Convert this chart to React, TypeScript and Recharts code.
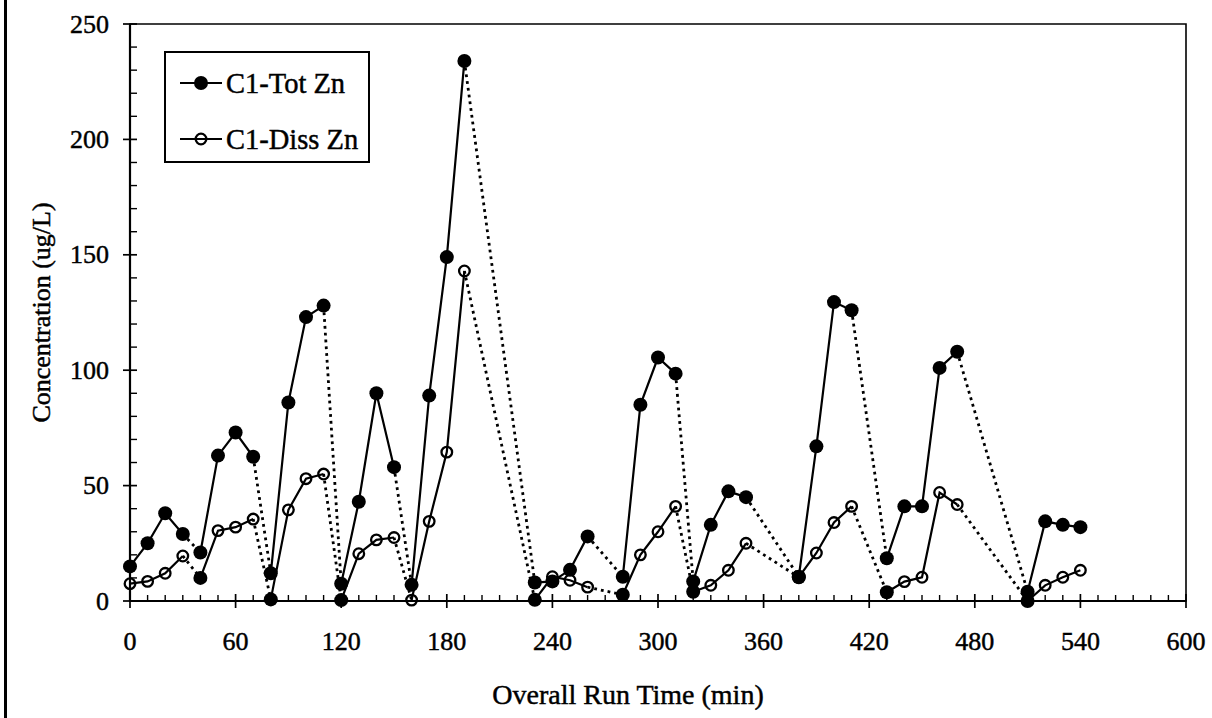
import React from 'react';
import { LineChart, Line, XAxis, YAxis, ReferenceArea, Legend } from 'recharts';

// Sample times (min) shared by both zinc series
const runTime = [
  0, 10, 20, 30,
  40, 50, 60, 70,
  80, 90, 100, 110,
  120, 130, 140, 150,
  160, 170, 180, 190,
  230, 240, 250, 260,
  280, 290, 300, 310,
  320, 330, 340, 350,
  380, 390, 400, 410,
  430, 440, 450, 460, 470,
  510, 520, 530, 540,
];

// Total zinc (ug/L)
const totZn = [
  15, 25, 38, 29,
  21, 63, 73, 62.5,
  12, 86, 123, 128,
  7.5, 43, 90, 58,
  7, 89, 149, 234,
  8, 8.5, 13.5, 28,
  10.5, 85, 105.5, 98.5,
  8.5, 33, 47.5, 45,
  10.5, 67, 129.5, 126,
  18.5, 41, 41, 101, 108,
  4, 34.5, 33, 32,
];

// Dissolved zinc (ug/L)
const dissZn = [
  7.5, 8.5, 12, 19.5,
  10, 30.5, 32, 35.5,
  0.7, 39.5, 53, 55,
  0.4, 20.5, 26.5, 27.5,
  0.4, 34.5, 64.5, 143,
  0.5, 10.5, 9, 6,
  2.7, 20, 30, 41,
  4, 6.8, 13.3, 25,
  10.3, 20.8, 34, 41,
  3.8, 8.4, 10.3, 47, 41.8,
  0, 6.8, 10.3, 13.3,
];

// First sample time of each run; runs are joined by dotted connectors
const runStarts = [0, 40, 80, 120, 160, 230, 280, 320, 380, 430, 510];
// Dissolved samples plotted with a solid marker
const dissSolidMarkerAt = [40, 80, 120, 230, 280, 320, 380, 430, 510];

const xMajorTicks = [0, 60, 120, 180, 240, 300, 360, 420, 480, 540, 600];
const yMajorTicks = [0, 50, 100, 150, 200, 250];
const seriesNames = ['C1-Tot Zn', 'C1-Diss Zn'];
const xTitleText = 'Overall Run Time (min)';
const yTitleText = 'Concentration (ug/L)';

const xAllTicks = Array.from({ length: 61 }, (_, i) => i * 10);
const yAllTicks = Array.from({ length: 26 }, (_, i) => i * 10);

const FONT = "'Liberation Serif', 'Times New Roman', Times, serif";
const INK = '#000';
// a thin outline gives the text its heavy printed look
const TEXT_STYLE = { fontFamily: FONT, fill: INK, stroke: INK, strokeWidth: 0.45 };

type Pt = { t: number; v: number };

const toPoints = (vals: number[]): Pt[] => runTime.map((t, i) => ({ t, v: vals[i] }));

const splitRuns = (pts: Pt[]): Pt[][] => {
  const runs: Pt[][] = [];
  pts.forEach((p) => {
    if (runStarts.includes(p.t) || runs.length === 0) runs.push([]);
    runs[runs.length - 1].push(p);
  });
  return runs;
};

const connectors = (runs: Pt[][]): Pt[][] =>
  runs.slice(1).map((r, i) => [runs[i][runs[i].length - 1], r[0]]);

const totPts = toPoints(totZn);
const dissPts = toPoints(dissZn);
const totRuns = splitRuns(totPts);
const dissRuns = splitRuns(dissPts);
const totLinks = connectors(totRuns);
const dissLinks = connectors(dissRuns);

// Axis bands: the plot box sits at left 130, top 24, right 1186, bottom 601
const Y_AXIS_W = 60;
const X_AXIS_H = 30;

const renderXTick = (props: any) => {
  const { x, y, payload } = props;
  const v = payload.value;
  const major = xMajorTicks.includes(v);
  return (
    <g key={`xt-${v}`}>
      {major ? (
        <line x1={x} x2={x} y1={y - 7} y2={y + 7} stroke={INK} strokeWidth={1.7} />
      ) : (
        <line x1={x} x2={x} y1={y - 6} y2={y} stroke={INK} strokeWidth={1.4} />
      )}
      {major && (
        <text x={x} y={y + 40} textAnchor="middle" dominantBaseline="central" fontSize={26} {...TEXT_STYLE}>
          {v}
        </text>
      )}
    </g>
  );
};

const renderYTick = (props: any) => {
  const { x, y, payload } = props;
  const v = payload.value;
  const major = yMajorTicks.includes(v);
  return (
    <g key={`yt-${v}`}>
      {major ? (
        <line x1={x - 7} x2={x + 7} y1={y} y2={y} stroke={INK} strokeWidth={1.7} />
      ) : (
        <line x1={x} x2={x + 7} y1={y} y2={y} stroke={INK} strokeWidth={1.4} />
      )}
      {major && (
        <text x={x - 21} y={y} textAnchor="end" dominantBaseline="central" fontSize={26} {...TEXT_STYLE}>
          {v}
        </text>
      )}
    </g>
  );
};

const totDot = (props: any) => {
  const { cx, cy, index } = props;
  return <circle key={`tot-${index}`} cx={cx} cy={cy} r={7} fill={INK} />;
};

const dissDot = (props: any) => {
  const { cx, cy, index, payload } = props;
  if (dissSolidMarkerAt.includes(payload.t)) {
    return <circle key={`diss-${index}`} cx={cx} cy={cy} r={7} fill={INK} />;
  }
  return <circle key={`diss-${index}`} cx={cx} cy={cy} r={5.3} fill="none" stroke={INK} strokeWidth={2.3} />;
};

const renderLegend = () => (
  <svg width={206} height={112} style={{ display: 'block' }}>
    <rect x={1} y={1} width={204} height={110} fill="#fff" stroke={INK} strokeWidth={2} />
    {seriesNames.map((name, i) => {
      const y = 32 + i * 56;
      return (
        <g key={name}>
          <line x1={16} x2={58} y1={y} y2={y} stroke={INK} strokeWidth={2.2} />
          {i === 0 ? (
            <circle cx={37} cy={y} r={7} fill={INK} />
          ) : (
            <circle cx={37} cy={y} r={5.3} fill="none" stroke={INK} strokeWidth={2.3} />
          )}
          <text x={62} y={y} dominantBaseline="central" fontSize={28.5} {...TEXT_STYLE}>
            {name}
          </text>
        </g>
      );
    })}
  </svg>
);

const yTitle = (props: any) => {
  const vb = props.viewBox;
  const cx = vb.x + vb.width - 89;
  const cy = vb.y + vb.height / 2;
  return (
    <text x={cx} y={cy} transform={`rotate(-90 ${cx} ${cy})`} textAnchor="middle" dominantBaseline="central" fontSize={26} {...TEXT_STYLE}>
      {yTitleText}
    </text>
  );
};

const xTitle = (props: any) => {
  const vb = props.viewBox;
  const cx = vb.x + vb.width / 2 - 30;
  const cy = vb.y + 93;
  return (
    <text x={cx} y={cy} textAnchor="middle" dominantBaseline="central" fontSize={28} {...TEXT_STYLE}>
      {xTitleText}
    </text>
  );
};

export default function App() {
  return (
    <div style={{ position: 'absolute', left: 0, top: 0, width: 1212, height: 718, background: '#fff', overflow: 'hidden' }}>
      <div style={{ position: 'absolute', left: 4, top: 0, width: 3, height: 718, background: INK }} />
      <LineChart
        width={1212}
        height={718}
        margin={{ top: 24, right: 26, bottom: 117 - X_AXIS_H, left: 130 - Y_AXIS_W }}
      >
        <XAxis
          type="number"
          dataKey="t"
          domain={[0, 600]}
          ticks={xAllTicks}
          interval={0}
          height={X_AXIS_H}
          tickSize={0}
          tickMargin={0}
          tickLine={false}
          tick={renderXTick}
          axisLine={{ stroke: INK, strokeWidth: 2.2 }}
          label={{ content: xTitle }}
        />
        <YAxis
          type="number"
          domain={[0, 250]}
          ticks={yAllTicks}
          interval={0}
          width={Y_AXIS_W}
          tickSize={0}
          tickMargin={0}
          tickLine={false}
          tick={renderYTick}
          axisLine={{ stroke: INK, strokeWidth: 2.2 }}
          label={{ content: yTitle }}
        />
        <ReferenceArea x1={0} x2={600} y1={0} y2={250} fill="none" stroke={INK} strokeWidth={1.6} />

        {totRuns.map((run, i) => (
          <Line key={`tot-run-${i}`} data={run} dataKey="v" stroke={INK} strokeWidth={2.2} dot={false} activeDot={false} isAnimationActive={false} legendType="none" />
        ))}
        {dissRuns.map((run, i) => (
          <Line key={`diss-run-${i}`} data={run} dataKey="v" stroke={INK} strokeWidth={2.2} dot={false} activeDot={false} isAnimationActive={false} legendType="none" />
        ))}
        {totLinks.map((seg, i) => (
          <Line key={`tot-link-${i}`} data={seg} dataKey="v" stroke={INK} strokeWidth={2.8} strokeDasharray="2.8 4" dot={false} activeDot={false} isAnimationActive={false} legendType="none" />
        ))}
        {dissLinks.map((seg, i) => (
          <Line key={`diss-link-${i}`} data={seg} dataKey="v" stroke={INK} strokeWidth={2.8} strokeDasharray="2.8 4" dot={false} activeDot={false} isAnimationActive={false} legendType="none" />
        ))}

        <Line name={seriesNames[1]} data={dissPts} dataKey="v" stroke="none" dot={dissDot} activeDot={false} isAnimationActive={false} />
        <Line name={seriesNames[0]} data={totPts} dataKey="v" stroke="none" dot={totDot} activeDot={false} isAnimationActive={false} />

        <Legend
          content={renderLegend}
          layout="horizontal"
          verticalAlign="middle"
          align="center"
          wrapperStyle={{ position: 'absolute', left: 164, top: 51, width: 206, height: 112 }}
        />
      </LineChart>
    </div>
  );
}
